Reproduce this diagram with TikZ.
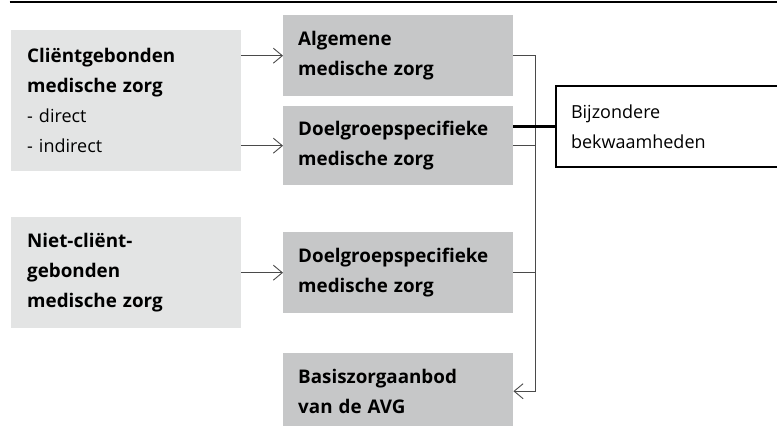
\documentclass[tikz,border=0pt]{standalone}
\usepackage{fontspec}
\setmainfont{Open Sans}
\usetikzlibrary{arrows.meta}
\definecolor{lightbox}{HTML}{E3E4E4}
\definecolor{midbox}{HTML}{C6C7C8}
\definecolor{conngray}{HTML}{4A4A4A}
\newcommand{\bt}[1]{{\fontsize{18.8}{30}\selectfont\bfseries #1}}
\tikzset{
  txt/.style={font=\fontsize{18}{30}\selectfont, align=left, anchor=north west, inner ysep=0pt},
  srcbox/.style={txt, fill=lightbox, minimum width=230pt, text width=198pt, inner xsep=16pt},
  dstbox/.style={txt, fill=midbox, minimum width=230pt, text width=200pt, inner xsep=15pt},
  conn/.style={draw=conngray, line width=0.9pt},
  arr/.style={conn, -{Straight Barb[length=9pt,width=15pt]}},
}
\begin{document}
\begin{tikzpicture}[x=1pt,y=-1pt]
\clip (0,0) rectangle (777,426);
\draw[line width=2.5pt] (9.5,2) -- (777,2);
% source boxes
\node[srcbox, minimum height=141pt] (c1) at (11,30)
  {\bt{Cliëntgebonden}\\\bt{medische zorg}\\- direct\\- indirect};
\node[srcbox, minimum height=111pt] (c2) at (11,217)
  {\bt{Niet-cliënt-}\\\bt{gebonden}\\\bt{medische zorg}};
% target boxes
\node[dstbox, minimum height=81pt] (A) at (283,15)
  {\bt{Algemene}\\\bt{medische zorg}};
\node[dstbox, minimum height=79pt] (B) at (283,106)
  {\bt{Doelgroepspecifieke}\\\bt{medische zorg}};
\node[dstbox, minimum height=81pt] (C) at (283,232)
  {\bt{Doelgroepspecifieke}\\\bt{medische zorg}};
\node[dstbox, minimum height=76pt] (D) at (283,353)
  {\bt{Basiszorgaanbod}\\\bt{van de AVG}};
% special box
\node[txt, draw, line width=2pt, minimum width=240pt, minimum height=81pt,
      text width=210pt, inner xsep=15pt] (bij) at (555,85)
  {Bijzondere\\bekwaamheden};
% connectors
\coordinate (bus) at (535,0);
\draw[arr] (c1.east |- A.west) -- (A.west);
\draw[arr] (c1.east |- B.west) -- (B.west);
\draw[arr] (c2.east |- C.west) -- (C.west);
\draw[arr] (A.east) -| (bus |- D.east) -- (D.east);
\draw[conn] (B.east) -- (B.east -| bus);
\draw[conn] (C.east) -- (C.east -| bus);
\draw[line width=2.2pt] (bij.west) -- (bij.west -| B.east);
\end{tikzpicture}
\end{document}
